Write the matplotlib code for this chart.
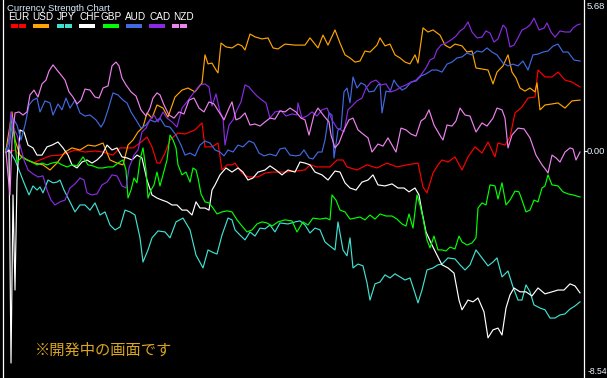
import matplotlib.pyplot as plt
from matplotlib.patches import Rectangle

# bar positions and strength values
eur_x = [6, 15, 22, 28, 33, 40, 50, 60, 67, 75,
         85, 95, 103, 113, 120, 133, 140, 147, 152, 157,
         160, 165, 170, 178, 185, 195, 202, 205, 212, 218,
         222, 227, 232, 235, 242, 248, 258, 265, 272, 285,
         295, 305, 310, 317, 330, 337, 343, 347, 357, 367,
         377, 387, 397, 407, 418, 423, 427, 433, 438, 442,
         448, 455, 462, 468, 475, 482, 488, 495, 498, 505,
         510, 515, 522, 528, 535, 538, 545, 552, 558, 565,
         572, 580]
eur = [-0.04, 0.04, -0.27, -0.35, -0.47, -0.35, -0.19, -0.16, -0.08, 0.04,
       -0.04, 0.00, -0.04, -0.16, 0.12, 0.12, 0.31, 0.54, 0.16, -0.47,
       -0.47, -0.08, 0.43, 0.70, 0.66, 0.82, 1.09, 0.16, 0.16, 0.31,
       -0.74, -0.54, -0.54, -0.47, -0.86, -1.01, -1.01, -0.86, -0.82, -0.82,
       -0.78, -0.74, -0.54, -0.62, -0.62, -0.35, -0.35, -0.62, -0.74, -0.54,
       -0.66, -0.47, -0.62, -0.54, -0.47, -1.40, -1.63, -0.86, -0.54, -0.35,
       -0.43, -0.23, -0.74, -0.23, 0.16, -0.08, 0.35, -0.23, 0.31, 0.23,
       0.54, 1.48, 1.71, 2.06, 2.10, 3.15, 2.88, 2.88, 3.07, 2.76,
       2.68, 2.49]

usd_x = [6, 10, 12, 15, 20, 27, 35, 43, 50, 57,
         65, 72, 80, 88, 95, 103, 110, 117, 123, 128,
         133, 138, 143, 147, 152, 157, 163, 168, 175, 182,
         188, 195, 202, 205, 208, 212, 216, 218, 221, 226,
         232, 238, 242, 245, 250, 255, 262, 268, 273, 278,
         285, 295, 305, 310, 318, 323, 328, 335, 340, 345,
         350, 355, 360, 365, 370, 377, 380, 385, 390, 395,
         400, 405, 410, 415, 418, 423, 428, 433, 440, 445,
         450, 455, 462, 467, 472, 476, 482, 488, 493, 497,
         503, 508, 512, 516, 520, 525, 530, 535, 537, 540,
         545, 552, 558, 565, 572, 580]
usd = [0.04, 1.01, 1.52, 0.43, -0.16, -0.35, -0.47, -0.54, -0.74, -0.47,
       -0.04, 0.12, 0.04, 0.23, 0.19, 0.31, -0.35, -0.47, -0.54, 0.23,
       0.43, 0.74, 0.93, 1.48, 1.28, 1.79, 1.67, 1.32, 2.10, 2.37,
       2.45, 2.30, 2.65, 3.74, 3.39, 3.42, 3.15, 3.04, 4.20, 4.05,
       4.01, 4.16, 4.09, 3.93, 4.55, 4.44, 4.36, 4.40, 4.01, 3.97,
       4.16, 4.12, 4.12, 4.40, 4.01, 4.51, 4.12, 4.71, 4.20, 3.74,
       3.62, 3.46, 3.50, 3.89, 3.85, 4.12, 4.40, 4.09, 4.16, 3.74,
       3.62, 3.46, 3.39, 3.74, 3.42, 4.79, 4.63, 4.71, 4.51, 4.12,
       4.01, 4.16, 4.09, 3.85, 3.89, 3.23, 3.19, 3.15, 2.61, 3.07,
       3.31, 3.74, 3.07, 2.84, 2.45, 2.33, 2.45, 2.30, 2.65, 1.60,
       1.79, 1.83, 1.87, 1.67, 1.95, 1.98]

jpy_x = [6, 9, 15, 19, 24, 29, 33, 37, 40, 43,
         48, 53, 57, 60, 64, 70, 75, 80, 85, 90,
         95, 100, 105, 110, 115, 120, 125, 130, 135, 140,
         143, 148, 152, 158, 165, 170, 176, 183, 190, 196,
         203, 208, 212, 217, 222, 228, 232, 235, 240, 245,
         250, 255, 260, 265, 270, 275, 280, 288, 295, 300,
         305, 310, 315, 320, 325, 330, 335, 338, 343, 347,
         350, 353, 358, 363, 367, 370, 375, 380, 385, 390,
         395, 400, 405, 410, 413, 418, 422, 427, 433, 438,
         442, 448, 455, 460, 465, 470, 476, 482, 488, 493,
         497, 502, 508, 513, 518, 522, 526, 530, 534, 540,
         545, 550, 555, 560, 565, 570, 575, 580]
jpy = [-0.04, 0.04, -0.35, -0.74, -1.24, -1.71, -1.36, -1.52, -1.40, -1.63,
       -1.13, -1.24, -1.21, -1.13, -1.52, -1.98, -2.37, -2.10, -2.10, -2.30,
       -2.02, -2.49, -2.37, -2.88, -3.07, -2.96, -2.30, -2.37, -2.49, -3.38,
       -4.32, -3.85, -3.38, -3.11, -3.15, -3.38, -2.76, -2.61, -3.07, -4.05,
       -4.55, -3.85, -3.93, -4.01, -3.27, -2.61, -2.68, -3.07, -3.27, -3.46,
       -3.15, -3.31, -3.00, -3.03, -2.88, -3.15, -2.80, -2.84, -2.76, -2.72,
       -2.88, -3.19, -3.00, -3.07, -3.54, -3.70, -3.85, -2.76, -3.85, -4.08,
       -3.38, -4.55, -4.40, -4.47, -5.13, -5.80, -5.17, -5.10, -4.82, -4.94,
       -4.78, -4.90, -5.02, -4.94, -5.29, -5.91, -5.41, -4.63, -4.55, -4.43,
       -4.40, -4.16, -4.20, -4.43, -4.63, -4.43, -3.85, -4.16, -4.47, -4.32,
       -4.16, -4.90, -4.67, -5.29, -5.80, -5.80, -5.21, -5.48, -5.99, -6.11,
       -6.18, -6.50, -6.50, -6.38, -6.34, -6.15, -6.03, -5.87]

chf_x = [6, 9, 11, 13, 15, 17, 20, 24, 28, 33,
         37, 42, 47, 52, 58, 63, 68, 72, 77, 82,
         87, 92, 97, 102, 107, 112, 117, 122, 127, 132,
         137, 142, 147, 152, 157, 162, 167, 172, 177, 182,
         187, 192, 196, 200, 205, 209, 212, 215, 220, 226,
         232, 238, 243, 248, 253, 258, 265, 270, 276, 282,
         288, 295, 300, 305, 310, 315, 322, 328, 335, 340,
         345, 350, 356, 362, 368, 373, 378, 385, 392, 398,
         404, 409, 415, 419, 422, 426, 432, 437, 442, 448,
         454, 459, 462, 468, 473, 478, 484, 488, 493, 498,
         502, 506, 510, 514, 520, 526, 532, 538, 545, 552,
         558, 564, 570, 575, 580]
chf = [-0.04, 0.04, -8.25, -1.71, -5.41, -1.13, 0.82, 0.74, 0.23, 0.12,
       -0.16, -0.16, 0.16, 0.23, 0.35, 0.12, -0.16, -0.54, -0.66, -0.43,
       -0.35, -0.47, -0.35, -0.16, 0.23, 0.04, 0.12, -0.23, -0.27, -0.35,
       -0.16, -0.27, -1.13, -1.71, -1.83, -1.91, -1.98, -2.10, -2.10, -2.30,
       -2.30, -2.49, -1.98, -2.22, -2.22, -2.30, -1.52, -1.32, -0.93, -0.66,
       -0.82, -0.66, -0.82, -1.13, -1.05, -0.82, -0.74, -0.58, -0.74, -0.93,
       -0.74, -0.82, -0.43, -0.47, -0.54, -0.82, -0.93, -1.13, -0.78, -0.82,
       -1.24, -1.44, -1.52, -1.21, -1.13, -0.93, -1.32, -1.36, -1.28, -1.44,
       -1.44, -1.59, -1.44, -1.71, -2.37, -3.15, -3.66, -4.05, -4.43, -4.55,
       -4.75, -5.80, -6.18, -5.80, -5.87, -5.72, -6.26, -7.27, -6.96, -6.89,
       -7.16, -6.11, -5.60, -5.33, -5.48, -5.48, -5.64, -5.33, -5.56, -5.48,
       -5.41, -5.41, -5.17, -5.25, -5.52]

gbp_x = [6, 9, 12, 14, 17, 22, 27, 32, 37, 42,
         47, 52, 57, 62, 67, 72, 77, 83, 88, 93,
         98, 103, 108, 113, 118, 123, 126, 128, 131, 134,
         137, 140, 143, 146, 148, 151, 154, 157, 160, 163,
         167, 170, 173, 176, 178, 182, 186, 190, 193, 196,
         198, 201, 205, 209, 213, 217, 222, 227, 232, 237,
         242, 247, 252, 257, 262, 267, 272, 278, 285, 292,
         297, 303, 308, 313, 320, 326, 330, 332, 336, 340,
         345, 350, 355, 360, 365, 370, 375, 380, 386, 392,
         397, 402, 406, 409, 413, 417, 420, 423, 427, 430,
         434, 438, 442, 446, 450, 455, 459, 462, 467, 472,
         476, 478, 482, 486, 490, 495, 498, 502, 506, 510,
         515, 519, 522, 526, 530, 534, 538, 542, 545, 548,
         552, 558, 563, 568, 573, 580]
gbp = [0.04, 0.43, 1.28, 0.62, -0.43, -0.23, -0.35, -0.43, -0.54, -0.47,
       -0.54, -0.47, -0.43, -0.54, -0.62, -0.54, -0.58, -0.23, -0.54, -0.58,
       -0.66, -0.66, -0.62, -0.62, -0.47, -0.35, -0.74, -1.83, -1.52, -1.05,
       -1.24, -0.35, 0.12, -0.74, -1.83, -1.52, -1.32, -0.82, -1.36, -0.93,
       -0.35, 0.62, 0.43, 0.12, -0.54, -0.93, -0.82, -1.21, -0.66, -0.74,
       -1.05, -1.67, -1.98, -2.02, -2.22, -2.45, -2.37, -2.33, -2.37, -2.68,
       -2.92, -3.15, -3.07, -2.84, -2.76, -2.80, -2.92, -2.76, -2.68, -2.72,
       -3.15, -2.76, -2.88, -2.61, -2.65, -2.61, -2.68, -1.71, -1.91, -2.30,
       -2.37, -2.65, -2.61, -2.57, -2.68, -2.49, -2.65, -2.45, -2.53, -2.53,
       -2.65, -2.84, -2.92, -2.45, -3.00, -1.71, -2.10, -2.61, -3.46, -3.77,
       -3.31, -3.85, -3.85, -3.89, -3.74, -3.81, -3.31, -3.54, -3.66, -3.58,
       -3.38, -2.22, -2.02, -2.10, -1.32, -1.36, -1.87, -1.24, -2.10, -1.91,
       -1.56, -1.59, -1.91, -2.37, -2.30, -1.91, -1.98, -1.44, -1.36, -0.93,
       -1.32, -1.36, -1.59, -1.67, -1.71, -1.79]

aud_x = [6, 9, 13, 17, 21, 25, 29, 33, 37, 40,
         45, 50, 53, 58, 62, 66, 70, 75, 80, 85,
         90, 96, 101, 104, 108, 113, 118, 123, 127, 131,
         136, 141, 146, 150, 155, 160, 165, 170, 176, 181,
         185, 190, 195, 200, 205, 210, 215, 220, 224, 228,
         233, 238, 243, 249, 254, 259, 264, 270, 276, 280,
         285, 290, 296, 300, 304, 309, 313, 318, 322, 325,
         329, 332, 334, 338, 341, 344, 347, 350, 353, 357,
         361, 365, 369, 374, 378, 380, 382, 386, 390, 394,
         397, 402, 406, 411, 416, 421, 426, 432, 437, 442,
         447, 452, 457, 462, 467, 472, 477, 482, 487, 492,
         497, 503, 508, 513, 518, 523, 528, 533, 538, 543,
         548, 553, 558, 563, 568, 574, 580]
aud = [-0.04, 0.12, 1.28, 1.01, 0.43, 1.01, 1.79, 1.98, 2.06, 1.52,
       1.95, 1.87, 1.40, 1.83, 1.60, 2.06, 1.67, 1.98, 1.48, 1.36,
       1.40, 1.21, 0.93, 1.13, 1.60, 2.26, 2.18, 1.98, 1.87, 1.52,
       1.21, 0.89, 1.01, 1.21, 1.13, 1.28, 0.97, 0.93, 0.62, 0.23,
       -0.16, -0.08, -0.19, 0.23, 0.39, 0.31, 0.04, -0.04, -0.19, 0.04,
       -0.04, 0.23, 0.16, 0.39, 0.31, -0.08, -0.19, -0.12, -0.19, 0.08,
       0.12, -0.16, -0.19, -0.16, 0.04, -0.27, -0.31, -0.04, -0.04, 0.43,
       1.48, 1.40, -0.27, 0.82, 0.89, 2.30, 2.45, 1.87, 2.88, 2.45,
       2.65, 2.57, 2.30, 2.33, 2.57, 2.61, 1.48, 2.33, 2.30, 2.76,
       2.57, 2.37, 2.45, 2.68, 2.72, 2.92, 3.00, 3.15, 3.15, 3.07,
       3.38, 3.46, 3.62, 3.66, 3.81, 3.74, 3.89, 3.85, 4.01, 3.85,
       3.74, 3.42, 3.31, 3.38, 3.31, 3.50, 3.15, 3.74, 3.77, 3.85,
       3.89, 4.08, 4.16, 3.85, 3.85, 3.54, 3.50]

cad_x = [6, 9, 11, 13, 17, 20, 24, 28, 33, 38,
         43, 47, 51, 55, 60, 65, 70, 75, 80, 84,
         87, 92, 97, 102, 107, 112, 117, 122, 126, 129,
         134, 138, 142, 146, 150, 154, 158, 163, 167, 172,
         177, 182, 187, 192, 196, 200, 205, 209, 212, 216,
         220, 223, 225, 229, 233, 237, 241, 245, 249, 253,
         257, 262, 266, 270, 275, 281, 286, 292, 297, 298,
         302, 307, 312, 317, 322, 327, 332, 337, 341, 344,
         348, 352, 357, 362, 366, 371, 376, 381, 386, 391,
         396, 401, 406, 411, 416, 421, 426, 430, 434, 437,
         441, 446, 451, 456, 460, 464, 468, 472, 477, 482,
         486, 490, 494, 498, 503, 506, 510, 514, 518, 522,
         526, 530, 534, 539, 544, 547, 551, 555, 560, 565,
         570, 573, 577, 580]
cad = [-0.04, 0.43, 1.52, 0.93, 0.62, 0.23, -0.35, -0.74, -0.89, -1.01,
       -0.97, -1.52, -1.91, -2.10, -1.98, -1.91, -1.44, -1.28, -1.05, -1.13,
       -1.63, -1.71, -1.67, -1.32, -1.21, -0.93, -0.97, -1.36, -1.44, -0.66,
       -0.16, 0.04, 0.74, 0.89, 1.21, 1.40, 1.13, 1.52, 1.28, 1.13,
       0.93, 1.67, 1.91, 2.18, 2.37, 2.57, 2.61, 2.49, 1.75, 2.22,
       1.52, 1.28, 0.23, 1.01, 1.21, 1.60, 1.91, 2.57, 2.49, 2.30,
       2.14, 1.98, 1.87, 1.28, 1.52, 1.56, 1.36, 1.44, 1.40, 1.87,
       1.28, 1.36, 1.52, 1.36, 1.60, 1.67, 1.21, 0.89, 0.82, 0.74,
       1.60, 1.75, 1.95, 2.06, 2.45, 2.68, 2.76, 2.57, 2.61, 2.30,
       2.37, 2.49, 2.57, 2.68, 2.76, 2.96, 3.23, 3.54, 3.62, 3.93,
       4.12, 4.20, 4.32, 4.47, 4.67, 4.78, 5.02, 4.63, 4.40, 4.43,
       4.67, 4.59, 4.24, 4.36, 4.90, 4.78, 4.05, 4.12, 4.40, 4.71,
       4.78, 4.90, 5.17, 4.71, 4.78, 4.98, 4.63, 4.43, 4.67, 4.63,
       4.63, 4.78, 4.90, 4.94]

nzd_x = [6, 8, 10, 12, 15, 19, 23, 27, 30, 34,
         38, 42, 46, 49, 53, 57, 61, 65, 69, 73,
         77, 81, 85, 90, 95, 99, 103, 108, 112, 116,
         119, 122, 126, 131, 136, 141, 146, 150, 153, 157,
         160, 164, 169, 174, 179, 184, 189, 194, 199, 204,
         209, 214, 219, 224, 229, 232, 236, 240, 245, 250,
         255, 260, 265, 270, 275, 280, 285, 290, 296, 301,
         305, 309, 314, 318, 324, 329, 331, 335, 339, 344,
         349, 353, 358, 363, 368, 372, 378, 383, 388, 392,
         396, 401, 406, 411, 416, 421, 425, 429, 434, 438,
         441, 443, 447, 452, 456, 460, 465, 470, 476, 482,
         487, 493, 497, 502, 505, 508, 512, 518, 524, 530,
         536, 542, 546, 548, 552, 556, 560, 565, 570, 573,
         576, 580]
nzd = [-0.04, -0.93, -1.71, 0.43, 1.48, 1.52, 1.40, 1.52, 2.18, 2.37,
       2.10, 2.61, 2.76, 3.11, 3.35, 3.15, 2.96, 2.76, 2.30, 2.10,
       1.83, 1.98, 2.41, 2.37, 2.10, 2.06, 2.45, 2.53, 3.31, 3.46,
       3.31, 2.84, 2.57, 2.30, 2.14, 1.60, 1.36, 1.67, 2.06, 2.26,
       2.18, 1.79, 1.40, 1.28, 1.52, 1.44, 1.98, 2.06, 1.67, 1.52,
       1.91, 1.83, 1.52, 1.21, 1.67, 1.91, 1.21, 1.28, 1.48, 1.01,
       1.05, 0.97, 1.13, 1.28, 1.24, 1.56, 1.52, 1.67, 1.52, 1.28,
       1.21, 0.62, 1.40, 1.67, 1.36, 1.13, 0.62, 0.12, 0.31, 0.82,
       1.21, 1.28, 0.82, 0.66, 0.51, -0.04, 0.27, 0.19, 0.51, 0.23,
       -0.04, 0.89, 0.82, 0.66, 0.58, 1.17, 1.28, 1.60, 1.01, 0.74,
       0.54, 0.43, 1.01, 0.97, 1.17, 1.67, 1.40, 1.36, 0.74, 1.09,
       0.97, 1.28, 1.67, 1.60, 1.28, 0.12, 0.62, 0.89, 0.86, 0.51,
       -0.16, -0.54, -0.74, -0.86, -0.16, -0.27, -0.43, -0.04, 0.12, 0.08,
       -0.35, -0.04]

names = ['EUR', 'USD', 'JPY', 'CHF', 'GBP', 'AUD', 'CAD', 'NZD']
colors = ['#ff0000', '#ffa500', '#40e0d0', '#ffffff',
          '#00ff00', '#4169e1', '#8a2be2', '#ee82ee']
series = [(eur_x, eur), (usd_x, usd), (jpy_x, jpy), (chf_x, chf),
          (gbp_x, gbp), (aud_x, aud), (cad_x, cad), (nzd_x, nzd)]

W, H = 607, 378
fig = plt.figure(figsize=(W / 100, H / 100), dpi=100, facecolor='black')
ax = fig.add_axes([2.5 / W, 0, 581 / W, 1])
ax.set_facecolor('black')

for (xs, ys), c in zip(series, colors):
    ax.plot(xs, ys, color=c, lw=0.85)

ax.set_xlim(2.5, 583.5)
ax.set_ylim(-8.833, 5.875)
ax.set_xticks([])

for side in ['top', 'bottom']:
    ax.spines[side].set_visible(False)
for side in ['left', 'right']:
    ax.spines[side].set_color('white')
    ax.spines[side].set_linewidth(0.9)

# price scale on the right
ax.yaxis.tick_right()
ax.set_yticks([5.68, 0.0, -8.54])
ax.set_yticklabels(['5.68', '0.00', '-8.54'], family='Liberation Sans')
ax.tick_params(axis='y', length=2.2, width=0.8, pad=0.4, colors='#e8f4ff',
               labelsize=6.8)
ticks = ax.yaxis.get_major_ticks()
ticks[0].tick2line.set_visible(False)
ticks[2].tick2line.set_visible(False)
ticks[2].label2.set_y(-8.45)
ticks[2].label2.set_fontsize(6.2)

# title and colour legend in the top left corner
fig.text(7 / W, 1 - 8.5 / H, 'Currency Strength Chart', color='#d8ecff',
         fontsize=6.8, family='Liberation Sans', va='center')
name_x = [8, 32, 57, 79, 101, 125, 149, 173]
swatch_x = [10.7, 33.3, 56.7, 79.3, 103.3, 126, 149, 171.7]
for n, nx, sx, c in zip(names, name_x, swatch_x, colors):
    fig.text(nx / W, 1 - 17.5 / H, n, color='white', fontsize=7.2,
             family='Liberation Sans', va='center')
    for k in range(2):
        fig.add_artist(Rectangle(((sx + k * 8) / W, 1 - 28 / H), 7.5 / W, 4 / H,
                                 transform=fig.transFigure, color=c, lw=0))

fig.text(35 / W, 1 - 350.5 / H, '※開発中の画面です', color='#daa520',
         fontsize=11, family=['Noto Sans CJK JP', 'DejaVu Sans'], va='center')

fig.savefig('out.png', dpi=100, facecolor='black')
plt.close()
